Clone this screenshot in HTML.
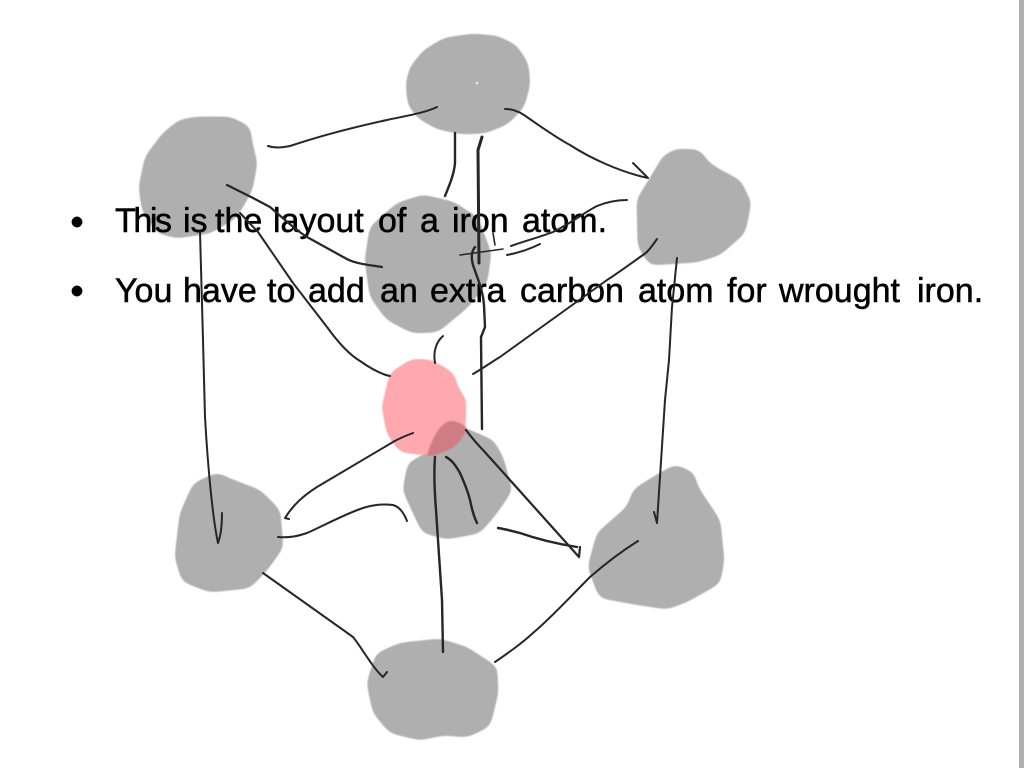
<!DOCTYPE html>
<html>
<head>
<meta charset="utf-8">
<title>Iron atom layout</title>
<style>
html,body{margin:0;padding:0;background:#fff;width:1024px;height:768px;overflow:hidden}
svg{display:block}
</style>
</head>
<body>
<svg width="1024" height="768" viewBox="0 0 1024 768" xmlns="http://www.w3.org/2000/svg">
<defs>
<filter id="goo" filterUnits="userSpaceOnUse" x="0" y="0" width="1024" height="768" color-interpolation-filters="sRGB">
<feGaussianBlur stdDeviation="5"/>
<feColorMatrix type="matrix" values="1 0 0 0 0  0 1 0 0 0  0 0 1 0 0  0 0 0 14 -6"/>
<feGaussianBlur stdDeviation="0.6"/>
</filter>
<filter id="l" filterUnits="userSpaceOnUse" x="0" y="0" width="1024" height="768"><feGaussianBlur stdDeviation="0.35"/></filter>
<filter id="b" filterUnits="userSpaceOnUse" x="0" y="0" width="1024" height="768"><feGaussianBlur stdDeviation="0.7"/></filter>
<clipPath id="pc"><path d="M466,400 L466,430 C462,440 455,447 448,450 C440,454 432,456 425,456 L400,452 L387,433 L382,407 L390,373 L413,359 L445,367 Z"/></clipPath>
</defs>
<rect x="0" y="0" width="1024" height="768" fill="#fff"/>
<rect x="1019" y="0" width="5" height="768" fill="#b0b0b0"/>

<g filter="url(#goo)" fill="#afafaf" stroke="#afafaf" stroke-width="4" stroke-linejoin="round">
<polygon points="408,84 412,68 425,52 445,40 473,36 497,38 515,47 526,64 528,84 522,106 507,122 485,131 462,132 438,127 420,117 410,104"/>
<polygon points="197,119 230,119 248,128 250,143 255,163 250,190 235,216 210,231 177,236 158,231 144,209 141,187 147,158 164,135 180,122"/>
<polygon points="423,197 453,204 476,219 489,253 485,282 466,306 437,330 413,331 388,318 372,296 367,260 372,228 398,205"/>
<polygon points="677,151 699,152 706,163 716,170 739,182 749,203 743,232 719,253 697,260 651,263 640,246 639,200 655,174 665,157"/>
<polygon points="450,424 492,442 501,458 510,490 495,512 479,531 447,537 424,531 415,512 405,490 410,464 428,455 434,441"/>
<polygon points="217,475 230,481 259,492 278,511 281,547 266,568 249,586 210,590 184,580 177,557 182,514 195,485"/>
<polygon points="369,683 378,655 401,645 440,641 466,649 495,668 496,693 488,725 467,735 443,733 420,738 391,731 375,712"/>
<polygon points="675,467 692,474 696,488 718,521 722,560 718,582 686,600 667,607 640,603 601,596 590,567 599,534 629,508 635,491 654,479"/>
</g>
<circle cx="477" cy="83" r="1.3" fill="#e8e8e8"/>

<polygon filter="url(#goo)" fill="#ffa8ae" stroke="#ffa8ae" stroke-width="4" stroke-linejoin="round" points="413,361 430,362 443,369 453,376 455,387 464,400 463,430 449,445 427,453 401,450 389,433 384,407 392,374"/>
<g filter="url(#b)">
<g clip-path="url(#pc)">
<path fill="#cf7b82" d="M450,421 C458,421 464,425 470,430 L480,470 L420,470 L427,456 C431,440 440,423 450,421 Z"/>
</g>
</g>

<g font-family="'Liberation Sans', sans-serif" font-size="34" fill="#000" stroke="#000" stroke-width="0.5">
<circle cx="77" cy="222" r="5.2"/>
<circle cx="77" cy="291" r="5.2"/>
<text y="232" x="115"><tspan x="115" letter-spacing="-2.4">This</tspan> <tspan x="183">is</tspan> <tspan x="215">the</tspan> <tspan x="273">layout</tspan> <tspan x="378">of</tspan> <tspan x="420">a</tspan> <tspan x="452">iron</tspan> <tspan x="522">atom.</tspan></text>
<text y="302" x="115"><tspan x="115">You</tspan> <tspan x="183">have</tspan> <tspan x="267">to</tspan> <tspan x="308">add</tspan> <tspan x="380">an</tspan> <tspan x="430">extra</tspan> <tspan x="520">carbon</tspan> <tspan x="638">atom</tspan> <tspan x="727">for</tspan> <tspan x="779">wrought</tspan> <tspan x="917">iron.</tspan></text>
</g>

<g filter="url(#l)" fill="none" stroke="#262626" stroke-width="2" stroke-linecap="round" stroke-linejoin="round">
<path d="M268,146 C274,148 280,148 290,146 C320,136 350,128 387,120 C405,116 425,113 437,107"/>
<path d="M455,133 L455,163 C454,175 449,186 445,196" stroke-width="2.4"/>
<path d="M482,137 L478,150 L479,263" stroke-width="3"/>
<path d="M475,247 C471,252 471,258 473,265 C478,280 483,290 484,305 L485,327 L481,337 L482,429" stroke-width="2.4"/>
<path d="M460,255 L503,249" stroke-width="1.6"/>
<path d="M493,233 L495,245" stroke-width="1.6"/>
<path d="M511,246 C525,241 540,237 553,232 C570,224 585,212 597,206 C607,202 618,200 627,200" stroke-width="2"/>
<path d="M507,255 C518,253 530,249 540,244" stroke-width="2"/>
<path d="M505,109 C512,109 518,111 524,115 C540,126 555,137 570,145 C590,158 620,172 648,178 L633,163" stroke-width="2"/>
<path d="M657,239 C652,246 648,252 643,255 C630,264 618,273 607,280 L500,357 C490,363 482,369 473,374" stroke-width="2"/>
<path d="M677,258 L672,307 L669,360 L665,400 L657,523 L654,512" stroke-width="2"/>
<path d="M200,232 L203,340 L205,417 C208,470 213,520 218,543 C221,535 222,525 222,513" stroke-width="2"/>
<path d="M227,185 L253,198 L270,207 C285,220 296,230 307,237 L345,258 C355,264 370,265 382,267" stroke-width="2.2"/>
<path d="M240,213 L258,232 L293,283 L327,327 C340,345 350,355 360,361 C370,368 380,374 390,376" stroke-width="2"/>
<path d="M443,336 C436,342 433,352 435,363" stroke-width="2"/>
<path d="M413,433 C405,436 398,439 393,442 L317,487 C303,496 293,505 285,518 L289,519" stroke-width="2"/>
<path d="M278,537 C290,538 298,536 307,533 C325,525 345,514 363,508 C375,504 385,504 393,505 C400,507 404,513 407,521" stroke-width="2"/>
<path d="M263,573 L353,637 C362,648 372,667 383,677 L387,672" stroke-width="2"/>
<path d="M443,652 L442,600 L436,510 C434,485 434,470 435,457" stroke-width="2.4"/>
<path d="M446,457 C452,460 456,466 460,473 C465,484 468,492 470,500 C472,510 474,517 477,523" stroke-width="2.4"/>
<path d="M466,430 C472,438 478,445 483,450 L579,557 L580,547" stroke-width="2.2"/>
<path d="M498,528 C505,529 512,531 520,533 C540,540 558,544 577,547" stroke-width="2.4"/>
<path d="M638,541 C622,551 605,564 590,577 C570,597 552,617 533,633 C521,644 508,653 495,662" stroke-width="2"/>
</g>
</svg>
</body>
</html>
